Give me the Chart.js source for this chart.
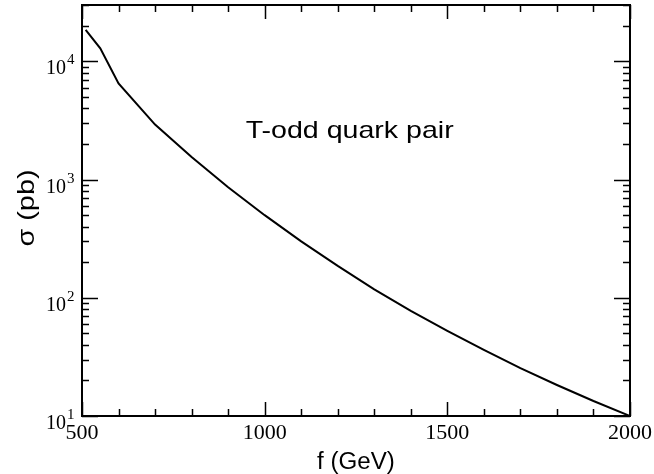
<!DOCTYPE html>
<html>
<head>
<meta charset="utf-8">
<title>T-odd quark pair</title>
<script src="https://cdn.jsdelivr.net/npm/chart.js@4.4.1/dist/chart.umd.min.js"></script>
<style>
  html, body { margin: 0; padding: 0; background: #fff; }
  #wrap { width: 654px; height: 474px; position: relative; }
</style>
</head>
<body>
<div id="wrap"><canvas id="xsec"></canvas></div>
<script>
// f (GeV) and pair cross section sigma (pb)
const fValues = [510, 550, 600, 700, 800, 900, 1000, 1100, 1200, 1300, 1400, 1500, 1600, 1700, 1800, 1900, 2000];
const sigmaValues = [18500, 12900, 6500, 2920, 1550, 860, 500, 300, 186, 118, 77.5, 52.5, 36.2, 25.4, 18.3, 13.4, 10];

const xMajorTicks = [500, 1000, 1500, 2000];
const xMinorStep = 100;
const yExponents = [1, 2, 3, 4];
const plotLabel = 'T-odd quark pair';
const xTitle = 'f (GeV)';
const yTitle = 'σ (pb)';

// text drawn a bit wider than the font's natural width
function wideText(ctx, text, x, y, stretch) {
  ctx.save();
  ctx.translate(x, y);
  ctx.scale(stretch, 1);
  ctx.fillText(text, 0, 0);
  ctx.restore();
}

// frame, inward ticks on all four sides, labels
const framePlugin = {
  id: 'frame',
  afterDraw(chart) {
    const { ctx, chartArea: a, scales } = chart;
    const sx = scales.x, sy = scales.y;
    ctx.save();
    ctx.strokeStyle = '#000';
    ctx.fillStyle = '#000';

    // x ticks
    ctx.lineWidth = 1.5;
    for (let v = sx.min; v <= sx.max; v += xMinorStep) {
      const px = Math.round(sx.getPixelForValue(v)) + 0.5;
      const len = xMajorTicks.includes(v) ? 14 : 7;
      ctx.beginPath();
      ctx.moveTo(px, a.bottom); ctx.lineTo(px, a.bottom - len);
      ctx.moveTo(px, a.top); ctx.lineTo(px, a.top + len);
      ctx.stroke();
    }

    // y ticks (decades + minor 2..9)
    for (const e of yExponents) {
      for (let m = 1; m <= 9; m++) {
        const v = m * Math.pow(10, e);
        if (v < sy.min || v > sy.max) continue;
        const py = Math.round(sy.getPixelForValue(v)) + 0.5;
        const len = m === 1 ? 16 : 7;
        ctx.beginPath();
        ctx.moveTo(a.left, py); ctx.lineTo(a.left + len, py);
        ctx.moveTo(a.right, py); ctx.lineTo(a.right - len, py);
        ctx.stroke();
      }
    }

    // frame
    ctx.lineWidth = 2;
    ctx.strokeRect(a.left, a.top, a.right - a.left, a.bottom - a.top);

    // x tick labels
    ctx.font = '22px "Liberation Serif", "Times New Roman", serif';
    ctx.textAlign = 'center';
    ctx.textBaseline = 'alphabetic';
    xMajorTicks.forEach(v => {
      ctx.fillText(String(v), sx.getPixelForValue(v), a.bottom + 23);
    });

    // y tick labels: 10 with superscript exponent
    yExponents.forEach(e => {
      const py = sy.getPixelForValue(Math.pow(10, e));
      ctx.font = '20px "Liberation Serif", "Times New Roman", serif';
      ctx.textAlign = 'right';
      ctx.fillText('10', 66, py + 13);
      ctx.font = '15px "Liberation Serif", "Times New Roman", serif';
      ctx.textAlign = 'left';
      ctx.fillText(String(e), 67, py + 3);
    });

    // axis titles
    ctx.font = '23px "Liberation Sans", Arial, sans-serif';
    ctx.textAlign = 'center';
    wideText(ctx, xTitle, (a.left + a.right) / 2, 469, 1.05);
    ctx.save();
    ctx.translate(34, 208);
    ctx.rotate(-Math.PI / 2);
    ctx.font = '24px "Liberation Sans", Arial, sans-serif';
    wideText(ctx, yTitle, 0, 0, 1.2);
    ctx.restore();

    // in-plot label
    ctx.font = '24px "Liberation Sans", Arial, sans-serif';
    ctx.textAlign = 'left';
    wideText(ctx, plotLabel, sx.getPixelForValue(948), sy.getPixelForValue(2270), 1.19);

    ctx.restore();
  }
};

new Chart(document.getElementById('xsec'), {
  type: 'line',
  data: {
    datasets: [{
      data: fValues.map((f, i) => ({ x: f, y: sigmaValues[i] })),
      borderColor: '#000',
      borderWidth: 2,
      pointRadius: 0,
      tension: 0,
      fill: false
    }]
  },
  options: {
    responsive: true,
    maintainAspectRatio: false,
    animation: false,
    layout: { padding: { left: 82, top: 5, right: 24, bottom: 58 } },
    plugins: { legend: { display: false }, tooltip: { enabled: false } },
    scales: {
      x: { type: 'linear', min: 500, max: 2000, display: false },
      y: { type: 'logarithmic', min: 10, max: 30000, display: false }
    }
  },
  plugins: [framePlugin]
});
</script>
</body>
</html>
